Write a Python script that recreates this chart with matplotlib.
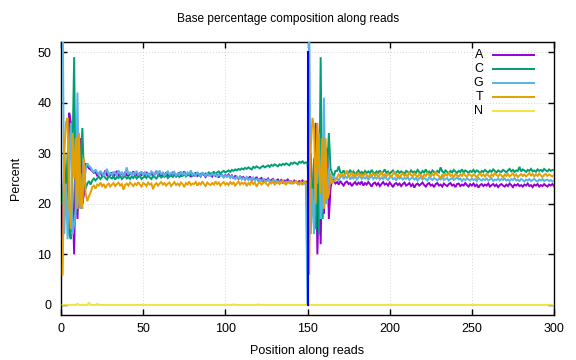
import numpy as np
import matplotlib
matplotlib.use("Agg")
import matplotlib.pyplot as plt
from matplotlib.lines import Line2D

plt.rcParams['font.family'] = ['Liberation Sans', 'DejaVu Sans']

# ---------------- data (percent per position) ----------------
# read 1, positions 1-20 (start-of-read oscillation)
A_r1_start = [13, 30, 18, 20, 38, 36, 22, 10, 30, 17, 26, 33, 20, 22, 28, 27.5, 27, 26.8, 26.5, 26.1]
C_r1_start = [20, 26, 22, 30, 14, 13, 30, 49, 18, 22, 20, 28, 35, 25, 23, 24, 24.5, 23.8, 24.6, 25.0]
G_r1_start = [61, 14, 24, 13, 28, 36, 14, 16, 19, 42, 20, 19, 26, 24, 27, 28, 27.5, 27.2, 26.6, 26.2]
T_r1_start = [6, 30, 36, 37, 20, 15, 34, 25, 33, 19, 34, 20, 19, 29, 22, 20.5, 21.5, 22.2, 23.3, 23.6]

# read 1, positions 21-149
A_r1_flat = [26.3, 25.6, 25.9, 26.4, 25.4, 25.8, 26.6, 25.5, 26.0, 25.7,
             26.2, 25.3, 25.9, 26.5, 25.6, 25.8, 26.1, 25.4, 26.3, 25.7,
             25.5, 26.0, 25.8, 26.4, 25.6, 25.9, 25.3, 26.2, 25.7, 26.0,
             25.6, 26.3, 25.5, 25.9, 26.1, 25.4, 25.8, 26.5, 25.7, 25.9,
             25.4, 26.0, 25.7, 26.2, 25.5, 25.9, 25.6, 26.3, 25.8, 25.4,
             25.9, 26.1, 25.5, 25.8, 26.4, 25.6, 25.7, 26.0, 25.3, 25.9,
             25.6, 26.2, 25.5, 25.8, 25.4, 26.0, 25.7, 25.3, 25.9, 25.6,
             25.8, 25.4, 26.1, 25.5, 25.7, 25.2, 25.9, 25.6, 25.3, 25.7,
             25.4, 25.8, 25.2, 25.6, 25.0, 25.5, 25.3, 24.9, 25.4, 25.1,
             25.3, 24.8, 25.2, 24.9, 25.4, 24.7, 25.0, 24.8, 25.3, 24.6,
             24.9, 25.1, 24.5, 24.8, 24.6, 25.0, 24.4, 24.7, 24.9, 24.3,
             24.6, 24.8, 24.4, 24.7, 24.2, 24.6, 24.5, 24.8, 24.3, 24.5,
             24.2, 24.6, 24.4, 24.1, 24.5, 24.3, 24.6, 24.2, 24.4]
G_r1_flat = [26.8, 26.2, 25.7, 26.5, 26.0, 25.5, 26.3, 26.9, 25.8, 26.1,
             25.6, 26.4, 26.0, 25.7, 26.6, 25.9, 26.2, 25.5, 26.0, 27.2,
             25.8, 26.3, 25.6, 26.1, 25.9, 26.5, 25.7, 26.0, 26.4, 25.6,
             26.2, 25.8, 26.0, 25.5, 26.4, 26.1, 25.7, 26.3, 25.9, 26.6,
             25.8, 26.2, 25.6, 26.0, 26.5, 25.7, 26.1, 25.9, 26.3, 25.6,
             26.0, 25.7, 26.4, 25.8, 26.1, 25.5, 26.2, 25.9, 26.6, 25.7,
             26.0, 25.6, 26.3, 25.8, 25.5, 26.1, 25.9, 25.4, 26.0, 25.7,
             25.5, 26.0, 25.6, 25.9, 25.3, 25.8, 25.5, 25.7, 25.2, 25.6,
             25.3, 25.6, 25.1, 25.5, 25.2, 24.9, 25.4, 25.0, 25.3, 24.8,
             25.1, 24.9, 25.3, 24.7, 25.0, 24.8, 25.2, 24.6, 24.9, 24.7,
             24.8, 24.5, 24.9, 24.6, 24.4, 24.8, 24.5, 24.3, 24.7, 24.4,
             24.6, 24.2, 24.5, 24.3, 24.6, 24.1, 24.4, 24.2, 24.5, 24.0,
             24.3, 24.1, 24.4, 23.9, 24.2, 24.0, 23.8, 24.1, 23.7]
C_r1_flat = [24.6, 25.0, 25.4, 24.9, 25.3, 25.6, 25.1, 24.8, 25.5, 25.2,
             25.0, 25.4, 24.8, 25.3, 25.1, 25.6, 24.9, 25.2, 25.5, 25.0,
             25.3, 24.9, 25.4, 25.1, 25.6, 25.0, 25.3, 25.5, 24.9, 25.2,
             25.4, 25.1, 25.6, 25.2, 24.9, 25.5, 25.3, 25.0, 25.4, 25.6,
             25.2, 25.5, 25.3, 25.7, 25.1, 25.4, 25.6, 25.3, 25.8, 25.4,
             25.6, 25.3, 25.7, 25.5, 25.9, 25.4, 25.7, 25.6, 25.9, 25.5,
             25.8, 25.6, 26.0, 25.7, 25.9, 26.1, 25.8, 26.0, 25.7, 26.2,
             25.9, 26.1, 26.3, 25.9, 26.2, 26.4, 26.0, 26.3, 26.5, 26.2,
             26.4, 26.6, 26.3, 26.7, 26.5, 26.8, 26.6, 26.9, 26.7, 27.0,
             26.8, 27.1, 26.9, 27.2, 27.0, 26.8, 27.3, 27.1, 27.4, 27.2,
             27.0, 27.3, 27.5, 27.2, 27.4, 27.6, 27.3, 27.7, 27.5, 27.8,
             27.6, 27.4, 27.8, 27.6, 27.9, 27.7, 28.0, 27.8, 27.6, 28.1,
             27.9, 28.2, 28.0, 27.8, 28.3, 28.1, 28.4, 28.0, 28.2]
T_r1_flat = [23.0, 23.8, 23.6, 24.2, 23.5, 23.9, 23.1, 23.7, 24.0, 23.4,
             23.8, 24.1, 23.5, 23.9, 24.2, 23.6, 23.9, 22.8, 23.7, 24.0,
             23.6, 24.2, 23.9, 23.5, 24.0, 23.7, 24.3, 23.8, 23.4, 24.1,
             23.9, 23.5, 24.2, 23.8, 24.0, 22.9, 23.7, 24.1, 23.6, 24.0,
             24.3, 23.8, 24.1, 23.6, 24.0, 24.2, 23.5, 23.9, 24.3, 23.7,
             24.0, 23.6, 24.2, 23.9, 23.3, 24.1, 23.8, 24.4, 23.7, 24.0,
             23.9, 24.3, 23.6, 24.1, 23.8, 24.4, 23.9, 23.5, 24.2, 23.9,
             23.7, 24.1, 23.8, 24.4, 23.9, 24.2, 23.6, 24.0, 24.3, 23.8,
             24.1, 23.7, 24.3, 23.9, 24.2, 23.6, 24.0, 24.4, 23.8, 24.2,
             23.9, 24.3, 23.5, 24.1, 23.8, 24.5, 23.9, 24.2, 23.4, 24.0,
             24.3, 23.8, 24.1, 24.4, 23.9, 23.6, 24.2, 24.0, 24.4, 23.8,
             24.1, 24.3, 23.9, 24.2, 24.5, 24.0, 23.8, 24.3, 24.1, 24.4,
             24.0, 24.2, 24.5, 24.1, 23.8, 24.3, 24.0, 24.4, 24.2]

# position 150 (read boundary)
A_150 = [24.3]
C_150 = [28.0]
G_150 = [0.0]
T_150 = [24.1]

# read 2, positions 151-167
A_r2_start = [14, 30, 19, 22, 36, 10, 24, 12, 30, 18, 27, 31, 17, 23, 25, 24.5, 24]
C_r2_start = [22, 25, 21, 29, 15, 30, 14, 49, 17, 22, 20, 27, 34, 27, 26, 25.5, 26.5]
G_r2_start = [58, 14, 23, 14, 29, 24, 34, 17, 20, 41, 20, 21, 27, 24, 25, 25.5, 24.8]
T_r2_start = [6, 31, 37, 35, 20, 36, 28, 22, 33, 19, 33, 21, 22, 26, 24, 24.5, 24.7]

# read 2, positions 168-300
A_r2_flat = [24.3, 23.8, 24.5, 24.0, 23.6, 24.2, 24.4, 23.9, 24.1, 23.5,
             24.0, 24.3, 23.7, 24.2, 23.9, 24.4, 23.6, 24.1, 23.8, 24.3,
             23.9, 23.4, 24.0, 24.2, 23.7, 24.1, 23.5, 23.9, 24.3, 23.8,
             24.0, 23.6, 24.2, 23.8, 23.3, 23.9, 24.1, 23.7, 24.0, 23.5,
             23.9, 24.2, 23.6, 23.8, 24.1, 23.5, 23.9, 23.2, 23.8, 24.0,
             23.6, 23.9, 24.2, 23.7, 23.4, 23.9, 24.1, 23.6, 23.8, 23.3,
             23.9, 24.1, 23.6, 23.8, 23.4, 24.0, 23.7, 23.5, 23.9, 24.1,
             23.6, 23.8, 23.3, 23.9, 24.0, 23.5, 23.8, 23.6, 24.1, 23.7,
             23.4, 23.9, 23.6, 24.0, 23.5, 23.8, 23.2, 23.7, 23.9, 23.5,
             23.8, 23.6, 24.0, 23.4, 23.7, 23.9, 23.5, 23.8, 23.3, 23.7,
             23.9, 23.6, 23.4, 23.8, 23.5, 24.0, 23.7, 23.3, 23.8, 23.6,
             23.9, 23.5, 23.7, 23.4, 23.8, 23.6, 24.0, 23.5, 23.7, 23.3,
             23.8, 23.6, 23.9, 23.4, 23.7, 23.5, 23.9, 23.6, 23.4, 23.8,
             23.6, 23.9, 23.5]
C_r2_flat = [26.5, 27.4, 26.2, 26.0, 26.6, 25.9, 26.3, 26.1, 26.7, 26.0,
             26.4, 25.8, 26.2, 26.6, 26.0, 26.3, 25.9, 26.5, 26.1, 26.4,
             26.0, 26.7, 26.2, 25.9, 26.4, 26.1, 26.6, 26.0, 26.3, 26.8,
             26.1, 26.4, 25.9, 26.3, 26.6, 26.0, 26.2, 26.5, 26.1, 26.4,
             26.2, 25.9, 26.5, 26.3, 26.0, 26.6, 26.2, 26.4, 26.1, 26.7,
             26.3, 26.0, 26.5, 26.2, 26.8, 26.1, 26.4, 26.0, 26.6, 26.3,
             26.1, 26.5, 26.2, 27.2, 26.4, 26.1, 26.6, 26.3, 26.0, 26.5,
             26.2, 26.7, 26.4, 26.1, 26.5, 26.3, 26.8, 26.2, 26.6, 26.4,
             26.1, 26.5, 26.3, 26.7, 26.2, 26.6, 26.4, 26.0, 26.5, 26.3,
             26.7, 26.4, 26.2, 26.6, 26.3, 26.8, 26.5, 26.2, 26.6, 26.4,
             26.3, 26.7, 26.5, 26.2, 26.6, 26.9, 26.4, 26.7, 26.3, 26.6,
             26.5, 27.3, 26.4, 26.8, 26.6, 26.3, 26.7, 26.5, 26.9, 26.4,
             26.6, 26.3, 26.8, 26.5, 26.7, 26.4, 26.9, 26.6, 26.4, 26.8,
             26.5, 26.7, 26.6]
G_r2_flat = [25.0, 24.6, 25.3, 25.6, 24.9, 25.4, 25.1, 25.7, 24.8, 25.3,
             25.0, 25.5, 24.8, 25.2, 25.6, 24.9, 25.3, 25.0, 25.4, 24.7,
             25.2, 25.5, 24.9, 25.3, 25.0, 25.4, 24.8, 25.2, 24.9, 25.3,
             25.0, 24.7, 25.2, 25.4, 24.9, 25.1, 24.6, 25.3, 25.0, 25.2,
             24.8, 25.1, 24.9, 25.3, 24.7, 25.0, 25.2, 24.8, 25.1, 24.6,
             25.0, 25.3, 24.8, 25.1, 24.9, 24.6, 25.2, 25.0, 24.7, 25.1,
             24.9, 24.6, 25.0, 24.8, 25.2, 24.7, 24.9, 25.1, 24.6, 24.9,
             25.1, 24.7, 24.9, 25.2, 24.8, 25.0, 24.5, 24.9, 24.7, 25.0,
             24.8, 24.6, 25.0, 24.7, 24.9, 24.5, 25.1, 24.8, 24.6, 24.9,
             24.7, 25.0, 24.6, 24.8, 25.1, 24.5, 24.8, 24.7, 25.0, 24.6,
             24.9, 24.7, 25.0, 24.6, 24.8, 24.5, 24.9, 24.7, 25.1, 24.6,
             24.8, 24.5, 24.9, 24.7, 24.4, 24.8, 24.6, 24.9, 24.5, 24.7,
             24.9, 24.6, 24.4, 24.8, 24.6, 24.9, 24.5, 24.7, 24.8, 24.5,
             24.7, 24.4, 24.6]
T_r2_flat = [25.2, 25.8, 25.4, 26.0, 25.5, 25.9, 26.6, 25.3, 25.7, 26.1,
             25.4, 25.9, 25.6, 26.2, 25.3, 25.8, 25.5, 26.0, 25.7, 25.2,
             25.8, 25.5, 26.1, 25.6, 25.9, 25.3, 25.7, 26.3, 25.5, 25.8,
             25.4, 26.0, 25.6, 25.3, 25.9, 26.4, 25.5, 25.8, 25.2, 25.7,
             26.0, 25.5, 25.8, 25.4, 26.2, 25.7, 25.4, 26.0, 25.6, 25.3,
             25.9, 25.6, 25.2, 25.8, 25.5, 26.1, 25.7, 25.4, 25.9, 25.6,
             26.3, 25.7, 25.5, 25.0, 25.8, 25.4, 25.9, 25.6, 26.2, 25.5,
             25.7, 25.3, 25.9, 25.6, 25.4, 25.8, 25.5, 26.1, 25.6, 25.3,
             25.9, 25.7, 25.4, 25.8, 25.6, 25.2, 25.7, 26.0, 25.5, 25.8,
             25.4, 25.9, 25.6, 25.3, 25.8, 25.5, 26.1, 25.7, 25.4, 25.9,
             25.6, 25.2, 25.8, 25.5, 25.9, 25.4, 25.7, 26.0, 25.5, 25.8,
             25.3, 25.6, 25.9, 25.5, 25.8, 25.4, 25.7, 26.1, 25.6, 25.9,
             25.4, 25.8, 25.5, 26.0, 25.6, 25.3, 25.7, 25.9, 25.5, 25.8,
             25.6, 25.4, 25.7]

# N: essentially zero, with a few tiny bumps
N_bump_pos = [10, 17, 22, 105, 120]
N_bump_val = [0.2, 0.4, 0.2, 0.1, 0.1]

boundary_pos = 150
labels = ["A", "C", "G", "T", "N"]
colors = ["#9400d3", "#009e73", "#56b4e9", "#e69f00", "#f0e442"]

A = A_r1_start + A_r1_flat + A_150 + A_r2_start + A_r2_flat
C = C_r1_start + C_r1_flat + C_150 + C_r2_start + C_r2_flat
G = G_r1_start + G_r1_flat + G_150 + G_r2_start + G_r2_flat
T = T_r1_start + T_r1_flat + T_150 + T_r2_start + T_r2_flat
pos = np.arange(1, len(A) + 1)
N = np.zeros(len(A))
for p, v in zip(N_bump_pos, N_bump_val):
    N[p - 1] = v

# ---------------- plot ----------------
W, H = 576, 360
fig = plt.figure(figsize=(W / 100, H / 100), dpi=100)
ax = fig.add_axes([61 / W, 1 - 315 / H, (554 - 61) / W, (315 - 42) / H])

for ys, c in zip([A, C, G, T, N], colors):
    ax.plot(pos, ys, color=c, lw=1.4, solid_joinstyle='miter', zorder=3)

ax.plot([boundary_pos, boundary_pos], [0, 50], color="#0000ff", lw=1.5, zorder=4)

ax.set_xlim(0, 300)
ax.set_ylim(-2, 52)
ax.set_xticks(np.arange(0, 301, 50))
ax.set_yticks(np.arange(0, 51, 10))
ax.grid(True, color="#c8c8c8", lw=0.6, linestyle=(0, (1, 2.5)))
ax.set_axisbelow(True)
ax.tick_params(direction='in', length=4, width=1, top=True, right=True,
               labelsize=9, colors='black')
ax.tick_params(axis='y', pad=7)
ax.tick_params(axis='x', pad=6)
for s in ax.spines.values():
    s.set_linewidth(1.0)
    s.set_color('black')

ax.set_xlabel("Position along reads", fontsize=9, labelpad=7)
ax.set_ylabel("Percent", fontsize=9, labelpad=11)
fig.text(0.5, 1 - 19 / H, "Base percentage composition along reads",
         ha='center', va='center', fontsize=8.6)

# gnuplot-style key: label then line sample
row_y = [55, 69, 83, 97, 111]
for lab, c, yp in zip(labels, colors, row_y):
    fig.text(483 / W, 1 - yp / H, lab, ha='right', va='center', fontsize=9)
    fig.add_artist(Line2D([493 / W, 534 / W], [1 - yp / H, 1 - yp / H],
                          color=c, lw=1.4, transform=fig.transFigure))

fig.savefig("out.png", dpi=100)
